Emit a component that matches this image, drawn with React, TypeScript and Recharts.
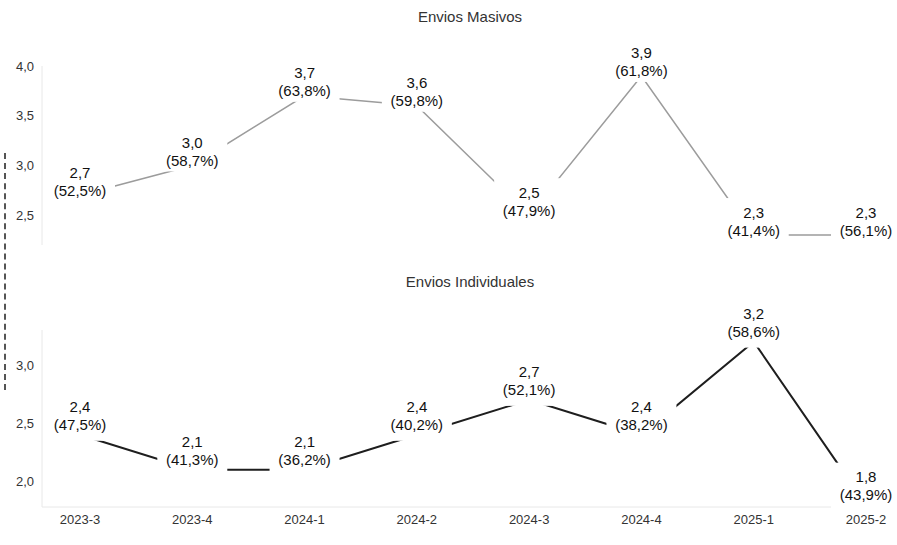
import React from "react";
import { LineChart, Line, XAxis, YAxis, LabelList } from "recharts";

const periods = ["2023-3", "2023-4", "2024-1", "2024-2", "2024-3", "2024-4", "2025-1", "2025-2"];
const masivos = [2.7, 3.0, 3.7, 3.6, 2.5, 3.9, 2.3, 2.3];
const masivosPct = [52.5, 58.7, 63.8, 59.8, 47.9, 61.8, 41.4, 56.1];
const individuales = [2.4, 2.1, 2.1, 2.4, 2.7, 2.4, 3.2, 1.8];
const individualesPct = [47.5, 41.3, 36.2, 40.2, 52.1, 38.2, 58.6, 43.9];
const masivosTicks = [2.5, 3.0, 3.5, 4.0];
const individualesTicks = [2.0, 2.5, 3.0];

const FONT = "'Liberation Sans', Arial, sans-serif";
const comma = (v: number) => v.toFixed(1).replace(".", ",");

const topData = periods.map((p, i) => ({ name: p, v: masivos[i], pct: masivosPct[i] }));
const bottomData = periods.map((p, i) => ({ name: p, v: individuales[i], pct: individualesPct[i] }));

// label with white box that hides the line under it
const makeLabel = (pcts: number[], dy: number, below: number) => (props: any) => {
  const { x, y, value, index } = props;
  const top = y + dy - 14;
  return (
    <g>
      <rect x={x - 35} y={top} width={70} height={y + below - top} fill="#fff" />
      <text x={x} y={y + dy} textAnchor="middle" dominantBaseline="central" fontSize={15} fill="#111" fontFamily={FONT}>
        {comma(value)}
      </text>
      <text x={x} y={y + dy + 18} textAnchor="middle" dominantBaseline="central" fontSize={15} fill="#111" fontFamily={FONT}>
        ({comma(pcts[index])}%)
      </text>
    </g>
  );
};

const tickStyle = { fill: "#333", fontSize: 13, fontFamily: FONT };

export default function App() {
  return (
    <div style={{ position: "absolute", left: 0, top: 0, width: 897, height: 545, background: "#fff", overflow: "hidden" }}>
      {/* scan artifact on the left edge */}
      <div style={{ position: "absolute", left: 4, top: 153, height: 237, borderLeft: "2px dashed #555" }} />

      <div style={{ position: "absolute", left: 0, top: 8, width: 940, textAlign: "center", fontSize: 15, color: "#333", fontFamily: FONT }}>
        Envios Masivos
      </div>
      <div style={{ position: "absolute", left: 0, top: 273, width: 940, textAlign: "center", fontSize: 15, color: "#333", fontFamily: FONT }}>
        Envios Individuales
      </div>

      {/* Envios Masivos */}
      <div style={{ position: "absolute", left: 0, top: 0 }}>
        <LineChart width={897} height={260} data={topData} margin={{ top: 66, right: 7, left: 0, bottom: 15 }}>
          <XAxis dataKey="name" height={0} tick={false} tickLine={false} axisLine={{ stroke: "#e8e8e8" }} padding={{ left: 38, right: 24 }} />
          <YAxis width={42} domain={[2.2, 4.0]} ticks={masivosTicks} tickFormatter={comma} tick={tickStyle} tickLine={false} axisLine={{ stroke: "#e8e8e8" }} />
          <Line dataKey="v" stroke="#9c9c9c" strokeWidth={1.5} dot={false} isAnimationActive={false}>
            <LabelList dataKey="v" content={makeLabel(masivosPct, -23, 6)} />
          </Line>
        </LineChart>
      </div>

      {/* Envios Individuales */}
      <div style={{ position: "absolute", left: 0, top: 270 }}>
        <LineChart width={897} height={275} data={bottomData} margin={{ top: 60, right: 7, left: 0, bottom: 8 }}>
          <XAxis dataKey="name" height={30} tick={tickStyle} tickLine={false} axisLine={{ stroke: "#e8e8e8" }} padding={{ left: 38, right: 24 }} interval={0} />
          <YAxis width={42} domain={[1.78, 3.3]} ticks={individualesTicks} tickFormatter={comma} tick={tickStyle} tickLine={false} axisLine={{ stroke: "#e8e8e8" }} />
          <Line dataKey="v" stroke="#1e1e1e" strokeWidth={2} dot={false} isAnimationActive={false}>
            <LabelList dataKey="v" content={makeLabel(individualesPct, -28, 6)} />
          </Line>
        </LineChart>
      </div>
    </div>
  );
}
